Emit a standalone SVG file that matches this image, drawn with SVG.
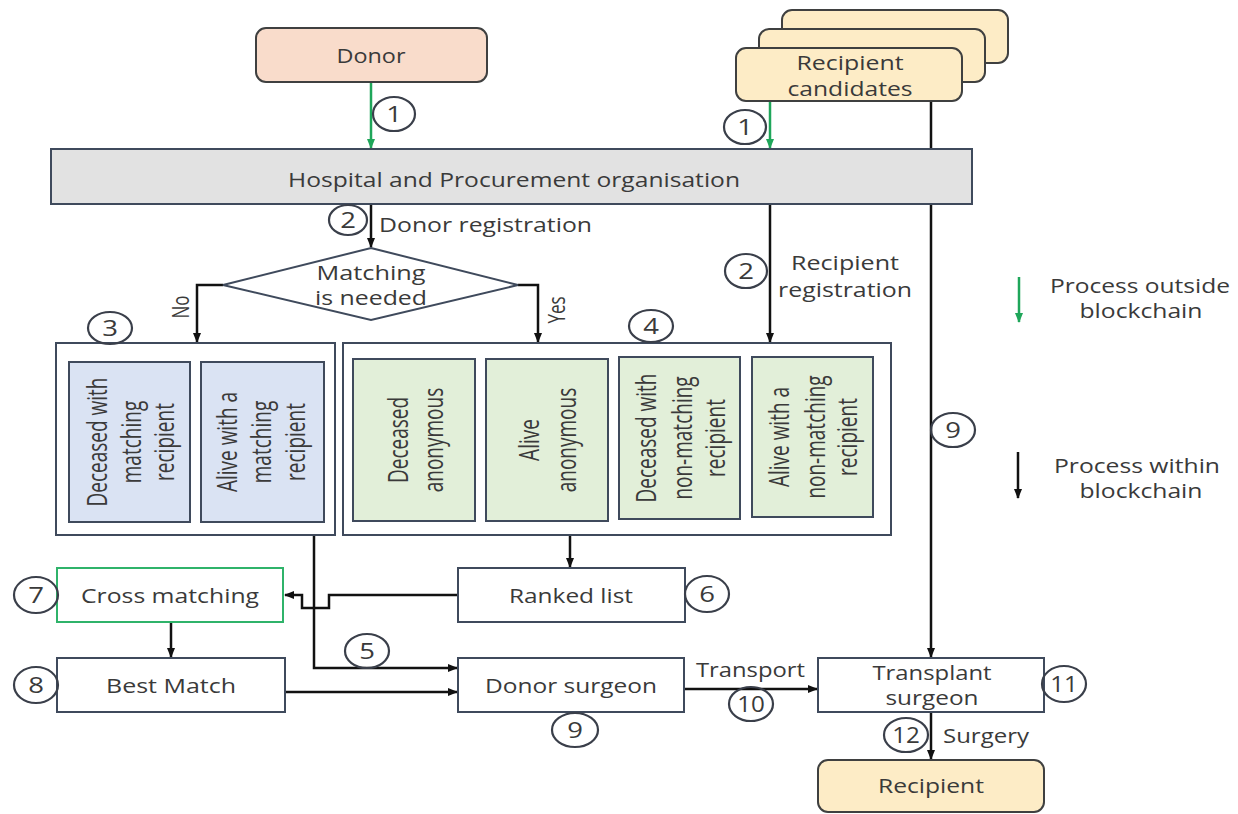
<svg xmlns="http://www.w3.org/2000/svg" width="1238" height="814" viewBox="0 0 1238 814">
<style>
.bx{fill:#fff;stroke:#3f4a5c;stroke-width:2}
.t{font-family:"Open Sans","Liberation Sans",sans-serif;font-size:20px;fill:#3a3a3a}
.r{font-family:"Open Sans","Liberation Sans",sans-serif;font-size:19px;fill:#3a3a3a;text-anchor:middle}
.m{text-anchor:middle}
.c{fill:none;stroke:#3a3f4a;stroke-width:2.2}
.n{font-family:"Open Sans","Liberation Sans",sans-serif;font-size:22px;fill:#3a3a3a;text-anchor:middle}
.k{fill:none;stroke:#111;stroke-width:2.5}
.g{fill:none;stroke:#1fa65a;stroke-width:2.5}
</style>
<defs>
<marker id="ak" markerUnits="userSpaceOnUse" markerWidth="10" markerHeight="10" viewBox="0 0 10 10" refX="9" refY="5" orient="auto"><path d="M0,1 L10,5 L0,9 z" fill="#111"/></marker>
<marker id="ag" markerUnits="userSpaceOnUse" markerWidth="10" markerHeight="10" viewBox="0 0 10 10" refX="9" refY="5" orient="auto"><path d="M0,1 L10,5 L0,9 z" fill="#1fa65a"/></marker>
</defs>
<rect width="1238" height="814" fill="#fff"/>

<g id="connectors">
<path class="g" d="M371,82 V148" marker-end="url(#ag)"/>
<path class="g" d="M770,101 V148" marker-end="url(#ag)"/>
<path class="k" d="M371,204 V247" marker-end="url(#ak)"/>
<path class="k" d="M223,285 H197 V342" marker-end="url(#ak)"/>
<path class="k" d="M518,285 H538 V342" marker-end="url(#ak)"/>
<path class="k" d="M770,204 V342" marker-end="url(#ak)"/>
<path class="k" d="M931,101 V657" marker-end="url(#ak)"/>
<path class="k" d="M570,536 V567" marker-end="url(#ak)"/>
<path class="k" d="M458,595 H329 V608 H302 V595 H285" marker-end="url(#ak)"/>
<path class="k" d="M314,536 V668 H457" marker-end="url(#ak)"/>
<path class="k" d="M171,623 V657" marker-end="url(#ak)"/>
<path class="k" d="M285,692 H457" marker-end="url(#ak)"/>
<path class="k" d="M684,689 H817" marker-end="url(#ak)"/>
<path class="k" d="M931,712 V759" marker-end="url(#ak)"/>
</g>

<g id="donor">
<rect x="256" y="28" width="231" height="54" rx="10" fill="#f9dccb" stroke="#3f4040" stroke-width="2"/>
<text class="t m" x="371" y="63" textLength="69" lengthAdjust="spacingAndGlyphs">Donor</text>
</g>

<g id="recipient-candidates">
<rect x="782" y="10" width="226" height="53" rx="10" fill="#fdecc6" stroke="#3f4040" stroke-width="2"/>
<rect x="759" y="29" width="226" height="53" rx="10" fill="#fdecc6" stroke="#3f4040" stroke-width="2"/>
<rect x="736" y="48" width="226" height="53" rx="10" fill="#fdecc6" stroke="#3f4040" stroke-width="2"/>
<text class="t m" x="850" y="70" textLength="107" lengthAdjust="spacingAndGlyphs">Recipient</text>
<text class="t m" x="850" y="96" textLength="125" lengthAdjust="spacingAndGlyphs">candidates</text>
</g>

<g id="hospital">
<rect x="51" y="149" width="921" height="55" fill="#e2e2e2" stroke="#3f4a5c" stroke-width="2"/>
<text class="t m" x="514" y="187" textLength="452" lengthAdjust="spacingAndGlyphs">Hospital and Procurement organisation</text>
</g>

<g id="matching-decision">
<polygon points="371,248 518,285 371,320 223,285" fill="#fff" stroke="#3f4a5c" stroke-width="2"/>
<text class="t m" x="371" y="280" textLength="109" lengthAdjust="spacingAndGlyphs">Matching</text>
<text class="t m" x="371" y="305" textLength="112" lengthAdjust="spacingAndGlyphs">is needed</text>
</g>

<g id="labels">
<text class="t" x="379" y="232" textLength="213" lengthAdjust="spacingAndGlyphs">Donor registration</text>
<text class="t" x="791" y="270" textLength="108" lengthAdjust="spacingAndGlyphs">Recipient</text>
<text class="t" x="778" y="297" textLength="134" lengthAdjust="spacingAndGlyphs">registration</text>
<text class="r" style="font-size:17px" transform="translate(189,307) scale(1.35,1) rotate(-90)">No</text>
<text class="r" style="font-size:17px" transform="translate(565,310) scale(1.35,1) rotate(-90)">Yes</text>
<text class="t" x="696" y="677" textLength="109" lengthAdjust="spacingAndGlyphs">Transport</text>
<text class="t" x="943" y="743" textLength="86" lengthAdjust="spacingAndGlyphs">Surgery</text>
</g>

<g id="group-3">
<rect class="bx" x="56" y="343" width="279" height="192"/>
<rect x="69" y="362" width="121" height="160" fill="#dae3f3" stroke="#3f4a5c" stroke-width="2"/>
<rect x="201" y="362" width="123" height="160" fill="#dae3f3" stroke="#3f4a5c" stroke-width="2"/>
<text class="r" transform="translate(107,442) scale(1.4,1) rotate(-90)">Deceased with</text>
<text class="r" transform="translate(141,442) scale(1.4,1) rotate(-90)">matching</text>
<text class="r" transform="translate(174,442) scale(1.4,1) rotate(-90)">recipient</text>
<text class="r" transform="translate(237,442) scale(1.4,1) rotate(-90)">Alive with a</text>
<text class="r" transform="translate(271,442) scale(1.4,1) rotate(-90)">matching</text>
<text class="r" transform="translate(305,442) scale(1.4,1) rotate(-90)">recipient</text>
</g>

<g id="group-4">
<rect class="bx" x="343" y="343" width="548" height="192"/>
<rect x="353" y="359" width="122" height="162" fill="#e2efd9" stroke="#3f4a5c" stroke-width="2"/>
<rect x="486" y="359" width="122" height="162" fill="#e2efd9" stroke="#3f4a5c" stroke-width="2"/>
<rect x="619" y="357" width="121" height="162" fill="#e2efd9" stroke="#3f4a5c" stroke-width="2"/>
<rect x="752" y="357" width="121" height="160" fill="#e2efd9" stroke="#3f4a5c" stroke-width="2"/>
<text class="r" transform="translate(408,440) scale(1.4,1) rotate(-90)">Deceased</text>
<text class="r" transform="translate(443,440) scale(1.4,1) rotate(-90)">anonymous</text>
<text class="r" transform="translate(539,440) scale(1.4,1) rotate(-90)">Alive</text>
<text class="r" transform="translate(576,440) scale(1.4,1) rotate(-90)">anonymous</text>
<text class="r" transform="translate(656,438) scale(1.4,1) rotate(-90)">Deceased with</text>
<text class="r" transform="translate(692,438) scale(1.4,1) rotate(-90)">non-matching</text>
<text class="r" transform="translate(725,438) scale(1.4,1) rotate(-90)">recipient</text>
<text class="r" transform="translate(789,437) scale(1.4,1) rotate(-90)">Alive with a</text>
<text class="r" transform="translate(825,437) scale(1.4,1) rotate(-90)">non-matching</text>
<text class="r" transform="translate(857,437) scale(1.4,1) rotate(-90)">recipient</text>
</g>

<g id="ranked-list">
<rect class="bx" x="458" y="568" width="227" height="54"/>
<text class="t m" x="571" y="603" textLength="124" lengthAdjust="spacingAndGlyphs">Ranked list</text>
</g>

<g id="cross-matching">
<rect x="57" y="568" width="226" height="54" fill="#fff" stroke="#2fb36a" stroke-width="2"/>
<text class="t m" x="170" y="603" textLength="178" lengthAdjust="spacingAndGlyphs">Cross matching</text>
</g>

<g id="best-match">
<rect class="bx" x="57" y="658" width="228" height="54"/>
<text class="t m" x="171" y="693" textLength="130" lengthAdjust="spacingAndGlyphs">Best Match</text>
</g>

<g id="donor-surgeon">
<rect class="bx" x="458" y="658" width="226" height="54"/>
<text class="t m" x="571" y="693" textLength="172" lengthAdjust="spacingAndGlyphs">Donor surgeon</text>
</g>

<g id="transplant-surgeon">
<rect class="bx" x="818" y="658" width="226" height="54"/>
<text class="t m" x="932" y="680" textLength="119" lengthAdjust="spacingAndGlyphs">Transplant</text>
<text class="t m" x="932" y="705" textLength="93" lengthAdjust="spacingAndGlyphs">surgeon</text>
</g>

<g id="recipient">
<rect x="818" y="760" width="226" height="52" rx="10" fill="#fdecc6" stroke="#3f4040" stroke-width="2"/>
<text class="t m" x="931" y="793" textLength="106" lengthAdjust="spacingAndGlyphs">Recipient</text>
</g>

<g id="step-numbers">
<ellipse class="c" cx="394" cy="114" rx="21" ry="17"/><text class="n" transform="translate(394,122) scale(1.25,1)">1</text>
<ellipse class="c" cx="745" cy="127" rx="21" ry="17"/><text class="n" transform="translate(745,135) scale(1.25,1)">1</text>
<ellipse class="c" cx="348" cy="220" rx="19" ry="15"/><text class="n" transform="translate(348,228) scale(1.25,1)">2</text>
<ellipse class="c" cx="746" cy="271" rx="21" ry="17"/><text class="n" transform="translate(746,279) scale(1.25,1)">2</text>
<ellipse class="c" cx="110" cy="328" rx="22" ry="16"/><text class="n" transform="translate(110,336) scale(1.25,1)">3</text>
<ellipse class="c" cx="651" cy="326" rx="22" ry="16"/><text class="n" transform="translate(651,334) scale(1.25,1)">4</text>
<ellipse class="c" cx="367" cy="651" rx="22" ry="17"/><text class="n" transform="translate(367,659) scale(1.25,1)">5</text>
<ellipse class="c" cx="707" cy="594" rx="22" ry="18"/><text class="n" transform="translate(707,602) scale(1.25,1)">6</text>
<ellipse class="c" cx="36" cy="595" rx="22" ry="18"/><text class="n" transform="translate(36,603) scale(1.25,1)">7</text>
<ellipse class="c" cx="36" cy="685" rx="22" ry="18"/><text class="n" transform="translate(36,693) scale(1.25,1)">8</text>
<ellipse class="c" cx="575" cy="730" rx="23" ry="17"/><text class="n" transform="translate(575,738) scale(1.25,1)">9</text>
<ellipse class="c" cx="953" cy="430" rx="22" ry="17"/><text class="n" transform="translate(953,438) scale(1.25,1)">9</text>
<ellipse class="c" cx="751" cy="704" rx="22" ry="17"/><text class="n" transform="translate(751,712) scale(1.1,1)">10</text>
<ellipse class="c" cx="1064" cy="684" rx="22" ry="18"/><text class="n" transform="translate(1064,692) scale(1.1,1)">11</text>
<ellipse class="c" cx="906" cy="735" rx="22" ry="17"/><text class="n" transform="translate(906,743) scale(1.1,1)">12</text>
</g>

<g id="legend">
<path class="g" d="M1019,277 V322" marker-end="url(#ag)"/>
<text class="t m" x="1140" y="293" textLength="180" lengthAdjust="spacingAndGlyphs">Process outside</text>
<text class="t m" x="1141" y="318" textLength="123" lengthAdjust="spacingAndGlyphs">blockchain</text>
<path class="k" d="M1018,452 V498" marker-end="url(#ak)"/>
<text class="t m" x="1137" y="473" textLength="166" lengthAdjust="spacingAndGlyphs">Process within</text>
<text class="t m" x="1141" y="498" textLength="123" lengthAdjust="spacingAndGlyphs">blockchain</text>
</g>
</svg>
